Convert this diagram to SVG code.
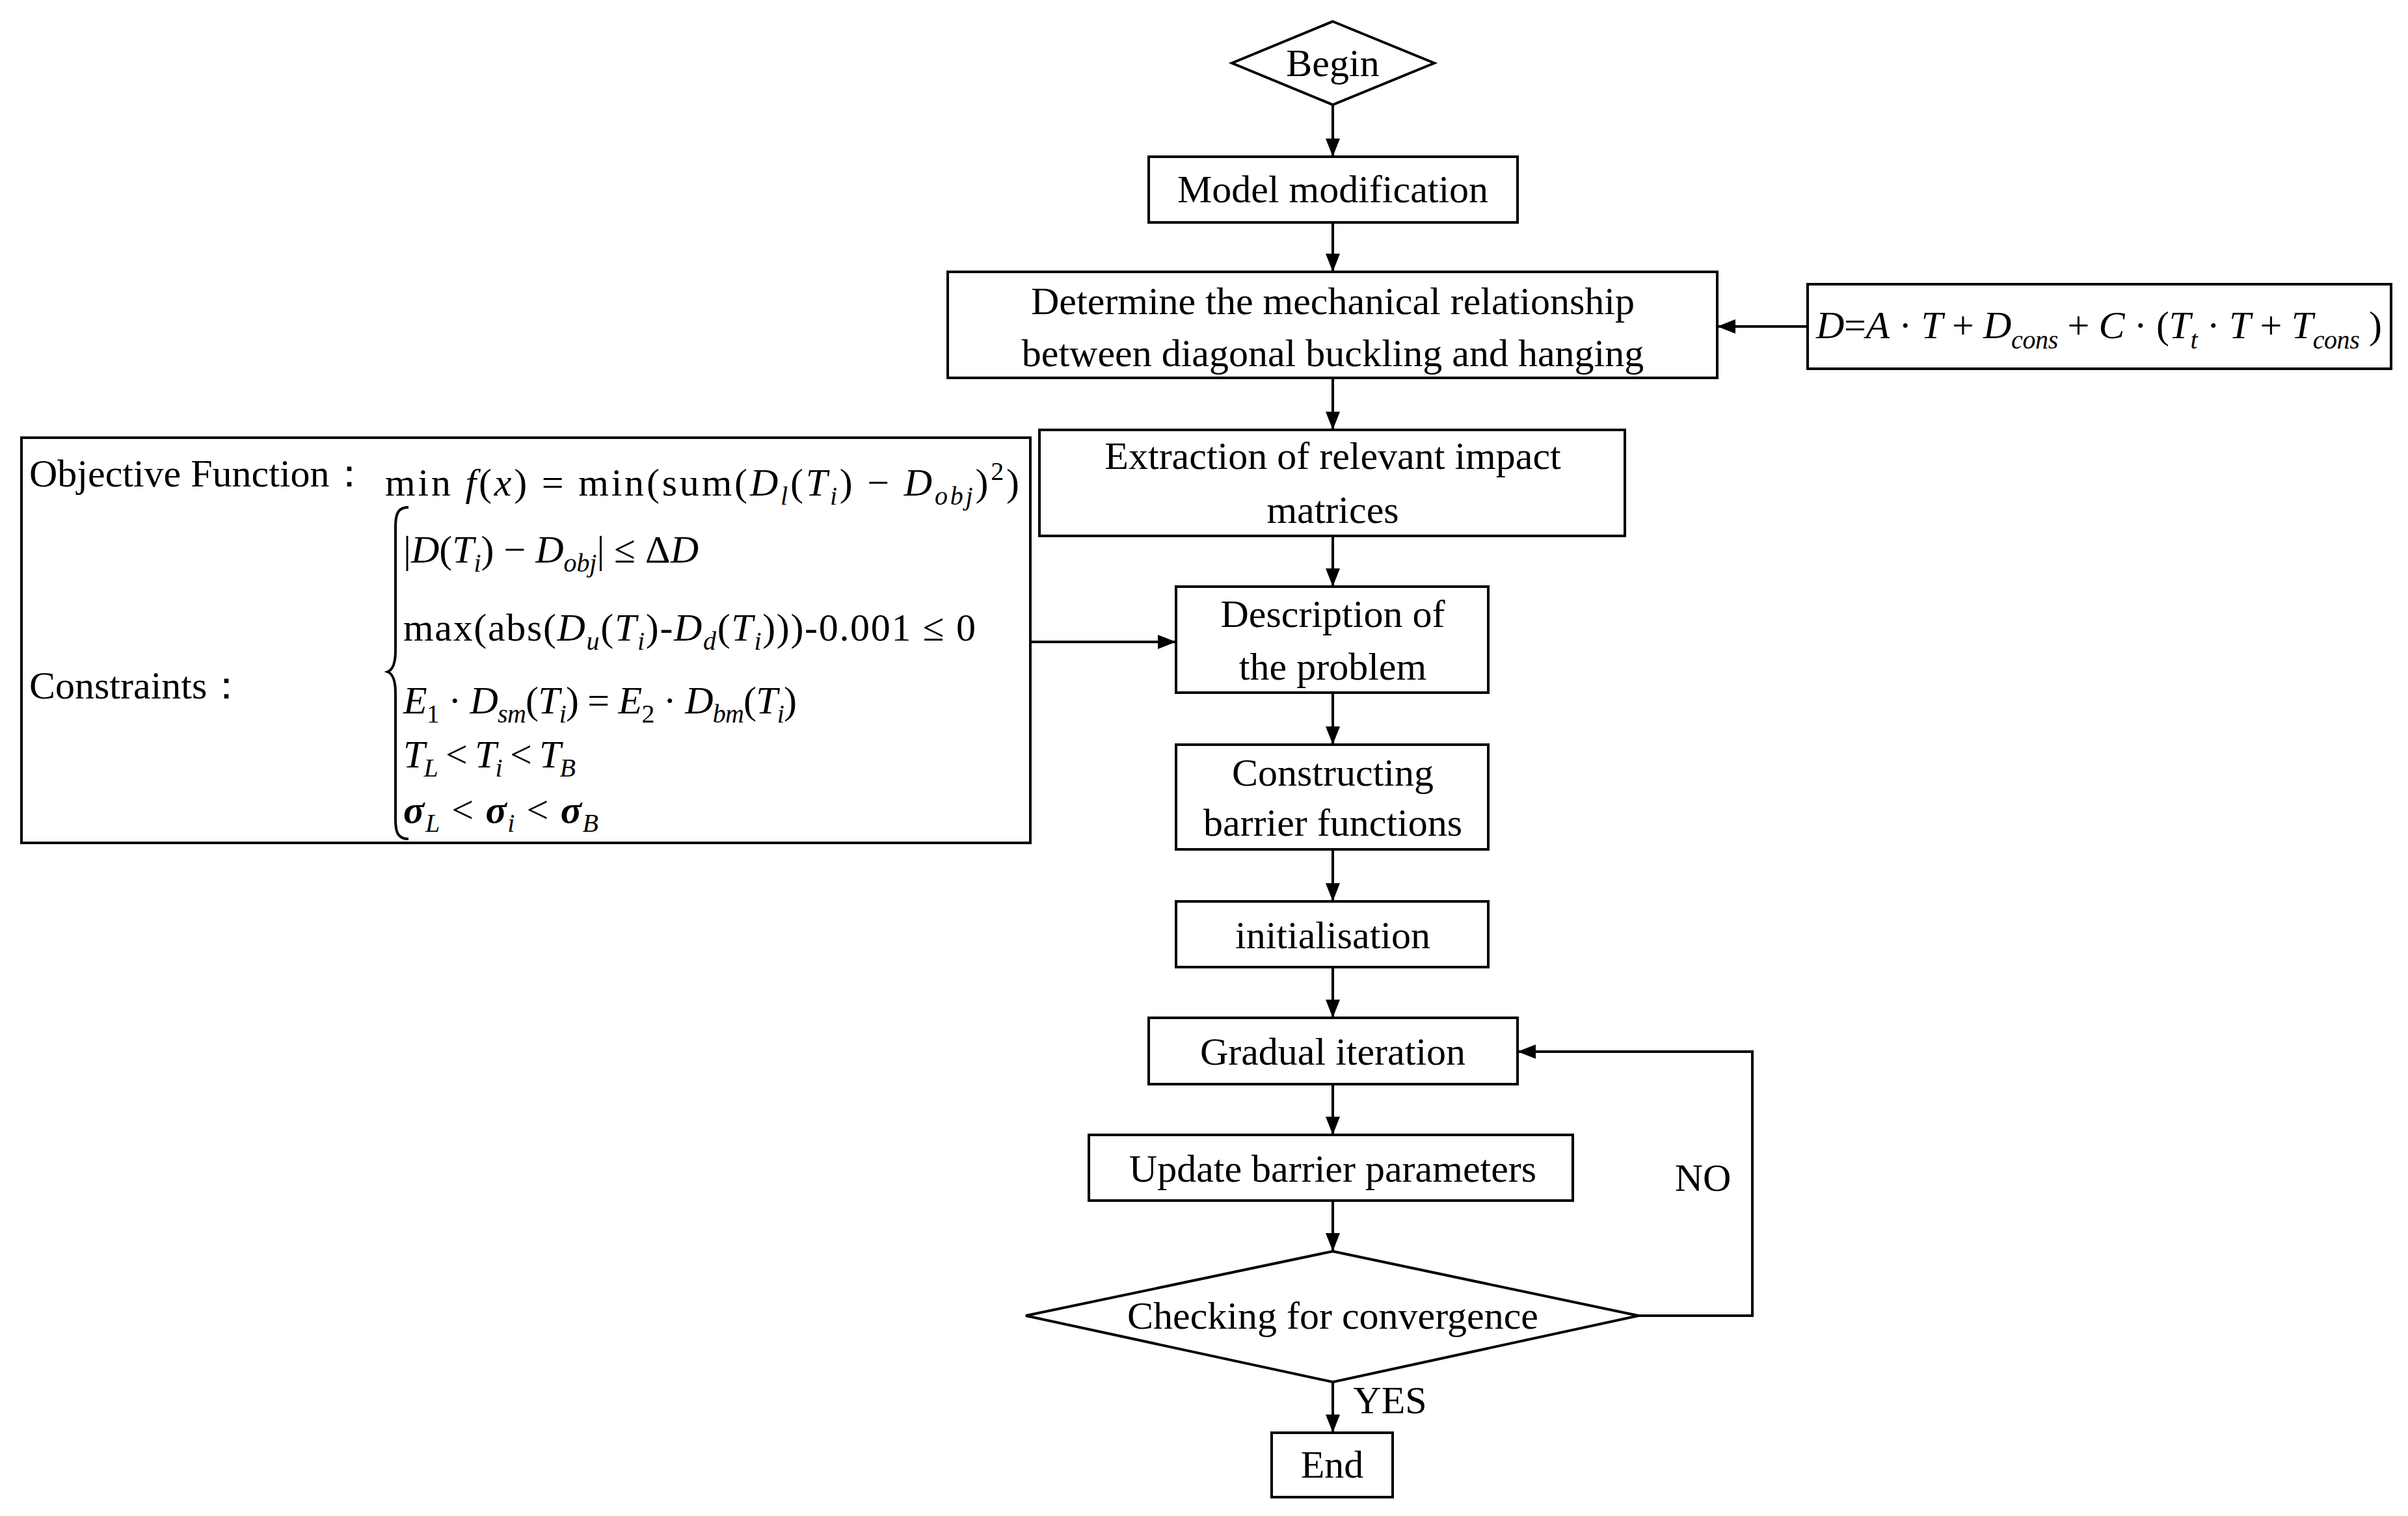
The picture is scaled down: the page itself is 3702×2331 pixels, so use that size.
<svg xmlns="http://www.w3.org/2000/svg" width="3702" height="2331" viewBox="0 0 3702 2331">
<style>
.b{fill:#fff;stroke:#000;stroke-width:4}
.t{font-family:"Liberation Serif",serif;font-size:60px;text-anchor:middle;fill:#000}
.m{font-family:"Liberation Serif",serif;font-size:60px;fill:#000}
.i{font-style:italic}
.s{font-size:40px;font-style:italic}
.c{fill:none;stroke:#000;stroke-width:4}
</style>
<defs><marker id="a" markerWidth="28" markerHeight="22" refX="28" refY="11" orient="auto" markerUnits="userSpaceOnUse" viewBox="0 0 28 22"><path d="M0,0L28,11L0,22z"/></marker></defs>
<rect width="3702" height="2331" fill="#fff"/>
<g id="connectors">
<path class="c" d="M2049,161V241" marker-end="url(#a)"/>
<path class="c" d="M2049,342V418" marker-end="url(#a)"/>
<path class="c" d="M2779,502H2640" marker-end="url(#a)"/>
<path class="c" d="M2049,581V661" marker-end="url(#a)"/>
<path class="c" d="M2049,824V902" marker-end="url(#a)"/>
<path class="c" d="M1584,987H1808" marker-end="url(#a)"/>
<path class="c" d="M2049,1065V1145" marker-end="url(#a)"/>
<path class="c" d="M2049,1306V1386" marker-end="url(#a)"/>
<path class="c" d="M2049,1487V1565" marker-end="url(#a)"/>
<path class="c" d="M2049,1667V1745" marker-end="url(#a)"/>
<path class="c" d="M2049,1846V1924" marker-end="url(#a)"/>
<path class="c" d="M2049,2125V2203" marker-end="url(#a)"/>
<path class="c" d="M2519,2023H2694V1617H2333" marker-end="url(#a)"/>
<text class="t" x="2618" y="1831">NO</text>
<text class="t" x="2137" y="2173">YES</text>
</g>
<g id="begin"><path class="b" d="M2049,33L2205,97L2049,161L1894,97z"/><text class="t" x="2049" y="117">Begin</text></g>
<g id="model"><rect class="b" x="1766" y="241" width="567" height="101"/><text class="t" x="2049" y="311">Model modification</text></g>
<g id="determine"><rect class="b" x="1457" y="418" width="1183" height="163"/><text class="t" x="2049" y="483">Determine the mechanical relationship</text><text class="t" x="2049" y="563">between diagonal buckling and hanging</text></g>
<g id="formulaD"><rect class="b" x="2779" y="437" width="897" height="130"/>
<text class="m" x="2792" y="520" font-size="62" textLength="870" lengthAdjust="spacing"><tspan class="i">D</tspan>=<tspan class="i">A</tspan> · <tspan class="i">T</tspan> + <tspan class="i">D</tspan><tspan class="s" dy="16">cons</tspan><tspan dy="-16"> + </tspan><tspan class="i">C</tspan> · (<tspan class="i">T</tspan><tspan class="s" dy="16">t</tspan><tspan dy="-16"> · </tspan><tspan class="i">T</tspan> + <tspan class="i">T</tspan><tspan class="s" dy="16">cons</tspan><tspan dy="-16"> )</tspan></text></g>
<g id="extraction"><rect class="b" x="1598" y="661" width="900" height="163"/><text class="t" x="2049" y="721">Extraction of relevant impact</text><text class="t" x="2049" y="804">matrices</text></g>
<g id="objective"><rect class="b" x="33" y="673" width="1551" height="623"/>
<text class="m" x="45" y="748" font-size="62">Objective Function：</text>
<text class="m" x="45" y="1074" font-size="62">Constraints：</text>
<text class="m" x="592" y="762" font-size="64" textLength="975" lengthAdjust="spacing">min <tspan class="i">f</tspan>(<tspan class="i">x</tspan>) = min(sum(<tspan class="i">D</tspan><tspan class="s" dy="14">l</tspan><tspan dy="-14">(</tspan><tspan class="i">T</tspan><tspan class="s" dy="14">i</tspan><tspan dy="-14">) − </tspan><tspan class="i">D</tspan><tspan class="s" dy="14">obj</tspan><tspan dy="-14">)</tspan><tspan font-size="40" dy="-24">2</tspan><tspan dy="24">)</tspan></text>
<path class="c" stroke-width="3" d="M628,780C612,780 608,790 608,810V1000C608,1020 604,1030 596,1033C604,1036 608,1046 608,1066V1260C608,1280 612,1290 628,1290"/>
<text class="m" x="620" y="865" textLength="454" lengthAdjust="spacing">|<tspan class="i">D</tspan>(<tspan class="i">T</tspan><tspan class="s" dy="14">i</tspan><tspan dy="-14">) − </tspan><tspan class="i">D</tspan><tspan class="s" dy="14">obj</tspan><tspan dy="-14">| ≤ Δ</tspan><tspan class="i">D</tspan></text>
<text class="m" x="620" y="985" textLength="880" lengthAdjust="spacing">max(abs(<tspan class="i">D</tspan><tspan class="s" dy="14">u</tspan><tspan dy="-14">(</tspan><tspan class="i">T</tspan><tspan class="s" dy="14">i</tspan><tspan dy="-14">)-</tspan><tspan class="i">D</tspan><tspan class="s" dy="14">d</tspan><tspan dy="-14">(</tspan><tspan class="i">T</tspan><tspan class="s" dy="14">i</tspan><tspan dy="-14">)))-0.001 ≤ 0</tspan></text>
<text class="m" x="620" y="1097" textLength="605" lengthAdjust="spacing"><tspan class="i">E</tspan><tspan font-size="40" dy="14">1</tspan><tspan dy="-14"> · </tspan><tspan class="i">D</tspan><tspan class="s" dy="14">sm</tspan><tspan dy="-14">(</tspan><tspan class="i">T</tspan><tspan class="s" dy="14">i</tspan><tspan dy="-14">) = </tspan><tspan class="i">E</tspan><tspan font-size="40" dy="14">2</tspan><tspan dy="-14"> · </tspan><tspan class="i">D</tspan><tspan class="s" dy="14">bm</tspan><tspan dy="-14">(</tspan><tspan class="i">T</tspan><tspan class="s" dy="14">i</tspan><tspan dy="-14">)</tspan></text>
<text class="m" x="620" y="1180" textLength="265" lengthAdjust="spacing"><tspan class="i">T</tspan><tspan class="s" dy="14">L</tspan><tspan dy="-14"> &lt; </tspan><tspan class="i">T</tspan><tspan class="s" dy="14">i</tspan><tspan dy="-14"> &lt; </tspan><tspan class="i">T</tspan><tspan class="s" dy="14">B</tspan></text>
<text class="m" x="620" y="1265" textLength="300" lengthAdjust="spacing"><tspan class="i" font-weight="bold">σ</tspan><tspan class="s" dy="14">L</tspan><tspan dy="-14"> &lt; </tspan><tspan class="i" font-weight="bold">σ</tspan><tspan class="s" dy="14">i</tspan><tspan dy="-14"> &lt; </tspan><tspan class="i" font-weight="bold">σ</tspan><tspan class="s" dy="14">B</tspan></text>
</g>
<g id="description"><rect class="b" x="1808" y="902" width="480" height="163"/><text class="t" x="2049" y="964">Description of</text><text class="t" x="2049" y="1045">the problem</text></g>
<g id="constructing"><rect class="b" x="1808" y="1145" width="480" height="161"/><text class="t" x="2049" y="1208">Constructing</text><text class="t" x="2049" y="1285">barrier functions</text></g>
<g id="init"><rect class="b" x="1808" y="1386" width="480" height="101"/><text class="t" x="2049" y="1458">initialisation</text></g>
<g id="gradual"><rect class="b" x="1766" y="1565" width="567" height="102"/><text class="t" x="2049" y="1637">Gradual iteration</text></g>
<g id="update"><rect class="b" x="1674" y="1745" width="744" height="101"/><text class="t" x="2049" y="1817">Update barrier parameters</text></g>
<g id="check"><path class="b" d="M2049,1924L2519,2023L2049,2125L1577,2023z"/><text class="t" x="2049" y="2043">Checking for convergence</text></g>
<g id="end"><rect class="b" x="1955" y="2203" width="186" height="99"/><text class="t" x="2048" y="2272">End</text></g>
</svg>
